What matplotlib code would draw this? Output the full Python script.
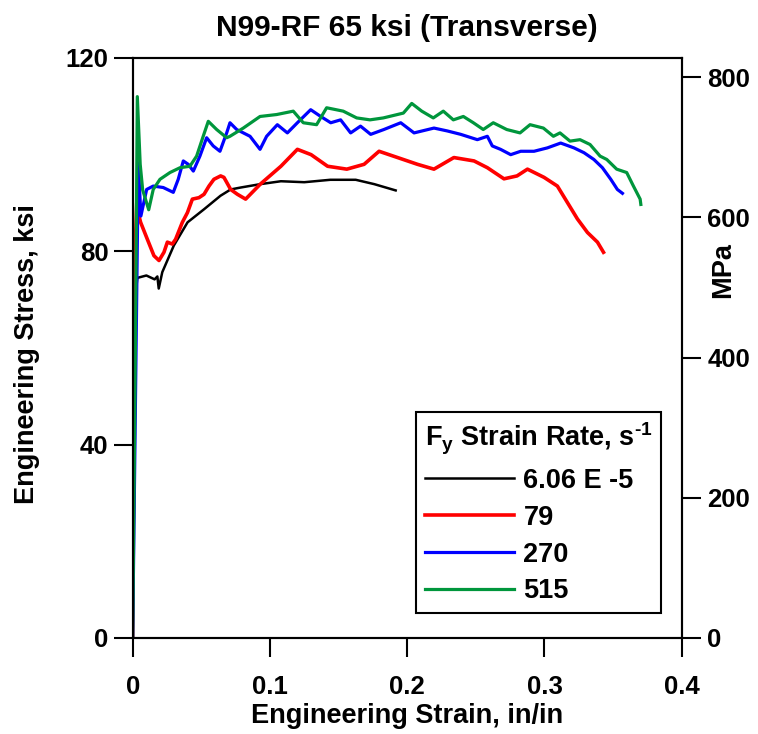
import numpy as np
import matplotlib
matplotlib.use('Agg')
import matplotlib.pyplot as plt

plt.rcParams['font.family'] = ['Liberation Sans', 'DejaVu Sans']
plt.rcParams['font.weight'] = 'bold'
plt.rcParams['mathtext.fontset'] = 'custom'
plt.rcParams['mathtext.rm'] = 'Liberation Sans:bold'
plt.rcParams['mathtext.default'] = 'rm'

# (strain in/in, stress ksi)
black_pts = [(0, 0), (0.0025, 72), (0.0034, 74.5), (0.010, 75), (0.016, 74.2), (0.018, 74.8),
             (0.019, 72.3), (0.0216, 75.7), (0.030, 81.2), (0.040, 86), (0.052, 88.7),
             (0.064, 91.5), (0.0714, 92.8), (0.0787, 93.2), (0.093, 93.9), (0.108, 94.5),
             (0.125, 94.3), (0.144, 94.8), (0.1625, 94.8), (0.176, 93.9), (0.1916, 92.6)]

red_pts = [(0, 0), (0.001, 60), (0.002, 82), (0.003, 90), (0.004, 88), (0.0058, 86),
           (0.0107, 82.5), (0.0155, 79.1), (0.0192, 78.1), (0.0228, 79.8), (0.0253, 81.9),
           (0.0289, 81.5), (0.0313, 82.5), (0.0362, 86), (0.0399, 88), (0.0435, 90.8),
           (0.0483, 91.1), (0.052, 91.8), (0.0556, 93.5), (0.0592, 94.9), (0.0641, 95.6),
           (0.0665, 95.3), (0.0714, 92.8), (0.0763, 91.8), (0.0823, 90.8), (0.093, 93.9),
           (0.108, 97.6), (0.12, 101.1), (0.13, 100), (0.142, 97.6), (0.156, 97),
           (0.1686, 98), (0.1795, 100.7), (0.193, 99.4), (0.2075, 98), (0.2195, 97),
           (0.234, 99.4), (0.2487, 98.7), (0.2584, 97.3), (0.2705, 95), (0.280, 95.6),
           (0.2876, 97), (0.2997, 95.3), (0.3094, 93.5), (0.3167, 90.1), (0.324, 86.7),
           (0.3313, 83.9), (0.3386, 81.9), (0.343, 79.8)]

blue_pts = [(0, 0), (0.0025, 60), (0.0041, 98.3), (0.006, 87.3), (0.0102, 92.8), (0.015, 93.5),
            (0.0223, 93.2), (0.0296, 92.2), (0.0332, 94.9), (0.0369, 98.7), (0.0405, 98),
            (0.0442, 96.6), (0.049, 99.7), (0.0539, 103.5), (0.0587, 101.8), (0.0636, 100.7),
            (0.0685, 104.5), (0.0709, 106.6), (0.0758, 105.2), (0.0855, 103.8), (0.0928, 101.1),
            (0.0976, 103.8), (0.1054, 106.2), (0.1127, 104.5), (0.12, 106.6), (0.1297, 109.3),
            (0.137, 107.9), (0.1443, 106.6), (0.1515, 107.2), (0.1588, 104.5), (0.166, 105.9),
            (0.1734, 104.2), (0.183, 105.2), (0.1953, 106.6), (0.205, 104.5), (0.2195, 105.5),
            (0.2293, 104.9), (0.239, 104.2), (0.2511, 103.1), (0.2584, 103.8), (0.262, 101.8),
            (0.268, 101.1), (0.2754, 100), (0.2827, 100.7), (0.2924, 100.7), (0.3021, 101.4),
            (0.3118, 102.4), (0.3215, 101.4), (0.3288, 100.4), (0.336, 99), (0.3422, 97.3),
            (0.3483, 94.9), (0.3531, 92.8), (0.3568, 92)]

green_pts = [(0, 0), (0.002, 60), (0.0034, 112), (0.0055, 98), (0.0073, 92.7), (0.0117, 88.6),
             (0.015, 92.8), (0.0199, 94.9), (0.0272, 96.3), (0.0345, 97.3), (0.0417, 97.6),
             (0.0466, 99.7), (0.0514, 103.8), (0.0551, 106.9), (0.0612, 105.2), (0.0685, 103.5),
             (0.0709, 103.8), (0.0806, 105.5), (0.0928, 107.9), (0.1049, 108.3), (0.117, 109),
             (0.1243, 106.6), (0.134, 106.2), (0.1413, 109.7), (0.1534, 109), (0.1632, 107.6),
             (0.1729, 107.2), (0.1826, 107.6), (0.1972, 108.6), (0.2033, 110.6), (0.2106, 109),
             (0.219, 107.6), (0.2263, 109), (0.2336, 107.2), (0.2409, 107.9), (0.2482, 106.6),
             (0.2554, 105.2), (0.2627, 106.6), (0.2725, 105.2), (0.2822, 104.5), (0.2895, 106.2),
             (0.2992, 105.5), (0.3065, 103.8), (0.3113, 104.5), (0.3186, 102.8), (0.3259, 103.1),
             (0.3332, 102.1), (0.3405, 99.7), (0.3454, 99), (0.3526, 97), (0.3599, 96.3),
             (0.3648, 93.5), (0.3697, 90.8), (0.3702, 89.7)]

labels = ['6.06 E -5', '79', '270', '515']
colors = ['black', '#ff0000', '#0000ff', '#00963c']
widths = [1.8, 2.6, 2.3, 2.3]

KSI_TO_MPA = 6.89476

fig = plt.figure(figsize=(7.58, 7.34), dpi=100)
ax = fig.add_axes([0.175, 0.1308, 0.7244, 0.7902])

for pts, lab, c, lw in zip([black_pts, red_pts, blue_pts, green_pts], labels, colors, widths):
    arr = np.array(pts)
    ax.plot(arr[:, 0], arr[:, 1], color=c, lw=lw, label=lab)

ax.set_xlim(0, 0.4)
ax.set_ylim(0, 120)
ax.set_xticks([0, 0.1, 0.2, 0.3, 0.4])
ax.set_xticklabels(['0', '0.1', '0.2', '0.3', '0.4'])
ax.set_yticks([0, 40, 80, 120])
ax.tick_params(direction='out', length=13.5, width=1.5, labelsize=18.5)
ax.tick_params(axis='x', pad=13)
ax.tick_params(axis='y', pad=4)
for s in ax.spines.values():
    s.set_linewidth(1.5)

ax.set_xlabel('Engineering Strain, in/in', fontsize=19.5, fontweight='bold', labelpad=3)
ax.set_ylabel('Engineering Stress, ksi', fontsize=19.5, fontweight='bold')
ax.yaxis.set_label_coords(-0.168, 0.49)
ax.set_title('N99-RF 65 ksi (Transverse)', fontsize=21.5, fontweight='bold', pad=16)

ax2 = ax.twinx()
ax2.set_ylim(0, 120 * KSI_TO_MPA)
ax2.set_yticks([0, 200, 400, 600, 800])
ax2.tick_params(direction='out', length=13.5, width=1.5, labelsize=18.5, pad=5)
ax2.set_ylabel('MPa', fontsize=19.5, fontweight='bold')
ax2.yaxis.set_label_coords(1.052, 0.634)
for s in ax2.spines.values():
    s.set_linewidth(1.5)

handles, labs = ax.get_legend_handles_labels()
leg = ax2.legend(handles, labs, title=r'F$_{y}$ Strain Rate, s$^{\text{-1}}$', title_fontsize=19.5,
                 fontsize=19.5, loc='lower right', bbox_to_anchor=(661 / 758, 121 / 734),
                 bbox_transform=fig.transFigure, borderaxespad=0, fancybox=False, framealpha=1,
                 edgecolor='black', handlelength=3.3, handletextpad=0.35,
                 labelspacing=0.4, borderpad=0.32, alignment='left')
leg.get_frame().set_linewidth(1.5)
for t in leg.get_texts():
    t.set_fontweight('bold')
leg.get_title().set_fontweight('bold')

fig.savefig('out.png', dpi=100)
